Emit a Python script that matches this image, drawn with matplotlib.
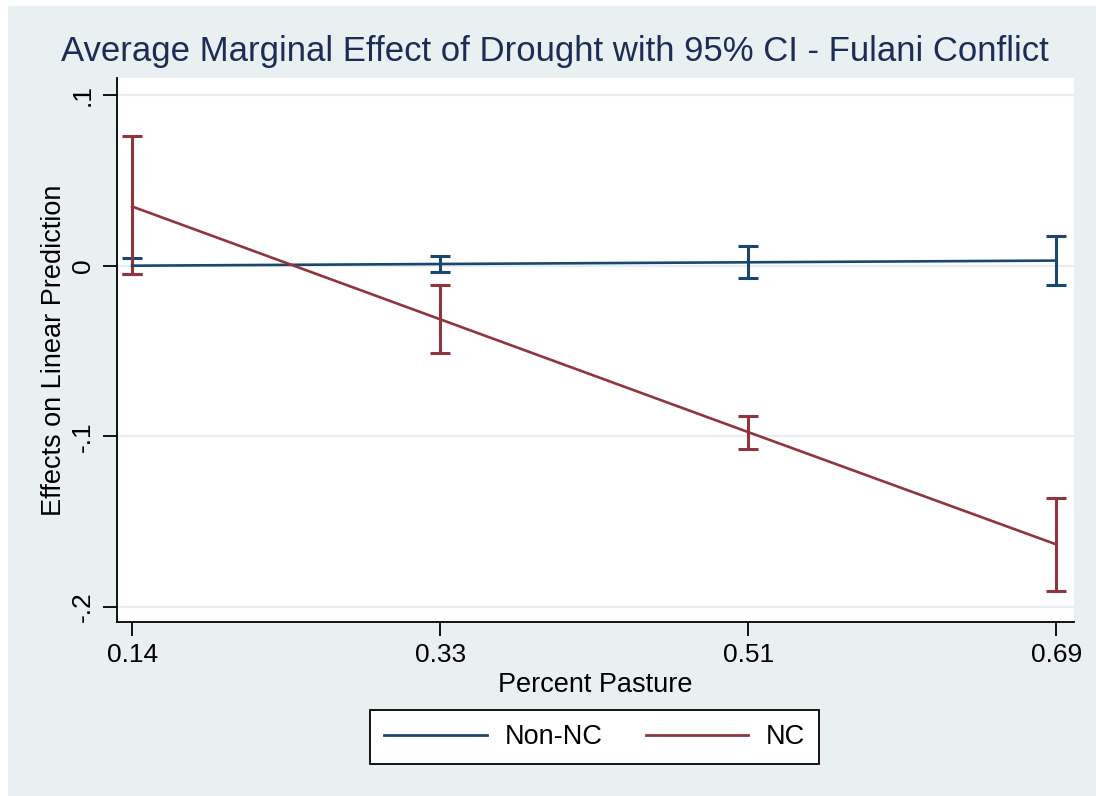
import numpy as np
import matplotlib
matplotlib.use("Agg")
import matplotlib.pyplot as plt

# Average marginal effects of drought by percent pasture, with 95% CIs
pasture_labels = ["0.14", "0.33", "0.51", "0.69"]

non_nc_effect = [0.000, 0.001, 0.002, 0.003]
non_nc_lower = [-0.005, -0.0035, -0.0071, -0.0114]
non_nc_upper = [0.0047, 0.0055, 0.0114, 0.0176]

nc_effect = [0.0347, -0.0314, -0.0975, -0.1633]
nc_lower = [-0.0049, -0.0510, -0.1072, -0.1908]
nc_upper = [0.0759, -0.0114, -0.0880, -0.1363]

y_ticks = [0.1, 0.0, -0.1, -0.2]
y_tick_labels = [".1", "0", "-.1", "-.2"]

NAVY = "#1a476f"
MAROON = "#90353b"
REGION = "#e9f0f2"
GRID = "#e6eef1"

plt.rcParams["font.family"] = ["Liberation Sans", "DejaVu Sans"]

fig = plt.figure(figsize=(10.96, 7.96), dpi=100)
fig.patch.set_facecolor("white")
# light graph region behind everything
fig.patches.append(plt.Rectangle((8 / 1096, 0), 1 - 8 / 1096, 1 - 6 / 796,
                                 transform=fig.transFigure, facecolor=REGION,
                                 edgecolor="none", zorder=-10))

ax = fig.add_axes([117 / 1096, 1 - 622 / 796, (1074 - 117) / 1096, (622 - 78) / 796])
ax.set_facecolor("white")

x = np.arange(len(pasture_labels))


def draw_series(effect, lower, upper, color, label):
    effect = np.array(effect)
    err = np.vstack([effect - np.array(lower), np.array(upper) - effect])
    ax.errorbar(x, effect, yerr=err, fmt="none", ecolor=color, elinewidth=2.2,
                capsize=7, capthick=2.2, zorder=3)
    ax.plot(x, effect, color=color, linewidth=1.9, label=label, zorder=4)


draw_series(non_nc_effect, non_nc_lower, non_nc_upper, NAVY, "Non-NC")
draw_series(nc_effect, nc_lower, nc_upper, MAROON, "NC")

ax.set_xlim(-0.049, 3.058)
ax.set_ylim(-0.2088, 0.110)

ax.set_xticks(x)
ax.set_xticklabels(pasture_labels, fontsize=19)
ax.set_yticks(y_ticks)
ax.set_yticklabels(y_tick_labels, fontsize=19, rotation=90, va="center")
ax.tick_params(axis="both", direction="out", length=10, width=1.3, color="black", pad=5)
ax.tick_params(axis="y", pad=6)

ax.grid(axis="y", color=GRID, linewidth=1.6, zorder=0)
ax.set_axisbelow(True)

for side in ["top", "right"]:
    ax.spines[side].set_visible(False)
for side in ["left", "bottom"]:
    ax.spines[side].set_linewidth(1.3)
    ax.spines[side].set_color("black")

ax.set_xlabel("Percent Pasture", fontsize=19.5, labelpad=4)
ax.set_ylabel("Effects on Linear Prediction", fontsize=19.5, labelpad=3)

fig.text(555 / 1096, 1 - 52 / 796,
         "Average Marginal Effect of Drought with 95% CI - Fulani Conflict",
         fontsize=25, color="#1c2d55", ha="center", va="center")

leg = ax.legend(loc="center", bbox_to_anchor=(594.5 / 1096, 1 - 737 / 796),
                bbox_transform=fig.transFigure, ncol=2, fontsize=19.5,
                frameon=True, fancybox=False, edgecolor="black", framealpha=1,
                handlelength=3.8, handletextpad=0.65, columnspacing=1.6,
                borderpad=0.5, borderaxespad=0)
leg.get_frame().set_linewidth(1.3)
leg.get_frame().set_facecolor("white")
for line in leg.get_lines():
    line.set_linewidth(2)

fig.savefig("out.png", dpi=100, facecolor=fig.get_facecolor())
